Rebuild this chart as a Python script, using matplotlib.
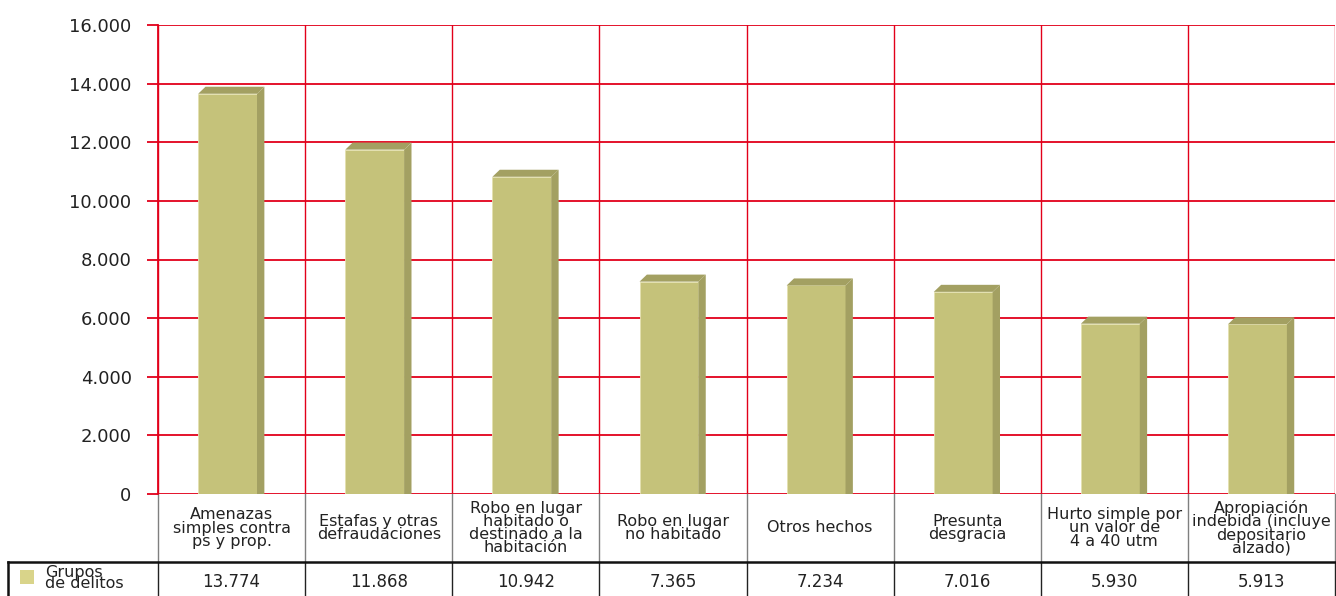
import matplotlib
matplotlib.use("Agg")
import matplotlib.pyplot as plt
from matplotlib.patches import Polygon, Rectangle
import matplotlib.transforms as mtransforms

categories = [
    "Amenazas\nsimples contra\nps y prop.",
    "Estafas y otras\ndefraudaciones",
    "Robo en lugar\nhabitado o\ndestinado a la\nhabitación",
    "Robo en lugar\nno habitado",
    "Otros hechos",
    "Presunta\ndesgracia",
    "Hurto simple por\nun valor de\n4 a 40 utm",
    "Apropiación\nindebida (incluye\ndepositario\nalzado)",
]
values = [13774, 11868, 10942, 7365, 7234, 7016, 5930, 5913]
value_labels = ["13.774", "11.868", "10.942", "7.365", "7.234", "7.016", "5.930", "5.913"]
series_name = "Grupos\nde delitos"
yticks = [0, 2000, 4000, 6000, 8000, 10000, 12000, 14000, 16000]
ytick_labels = ["0", "2.000", "4.000", "6.000", "8.000", "10.000", "12.000", "14.000", "16.000"]

plt.rcParams['font.family'] = ['DejaVu Sans']
W, H = 1336, 596
fig = plt.figure(figsize=(W / 100, H / 100), dpi=100)
ax = fig.add_axes([158 / W, (H - 494) / H, (1335 - 158) / W, (494 - 25) / H])

red = "#E2001A"
front = "#C5C27A"
dark = "#A3A062"
n = len(values)
ax.set_xlim(-0.5, n - 0.5)
ax.set_ylim(0, 16000)

# grid
for y in yticks:
    ax.axhline(y, color=red, lw=1.3, zorder=1)
for i in range(n + 1):
    ax.axvline(i - 0.5, color=red, lw=1.0, zorder=1)

bw = 0.40
off = -0.027
dx = 0.05
dy = 240
xs = [i + off for i in range(n)]
fronts = [v - dy / 2 for v in values]
ax.bar(xs, fronts, width=bw, color=front, edgecolor="#E4E1B0", linewidth=0.6, zorder=3)
for x, v in zip(xs, fronts):
    l, r = x - bw / 2, x + bw / 2
    top = Polygon([(l, v), (l + dx, v + dy), (r + dx, v + dy), (r, v)], closed=True,
                  facecolor=dark, edgecolor="none", zorder=4)
    side = Polygon([(r, v), (r + dx, v + dy), (r + dx, 0), (r, 0)], closed=True,
                   facecolor=dark, edgecolor="none", zorder=4)
    ax.add_patch(top)
    ax.add_patch(side)

ax.set_yticks(yticks)
ax.set_yticklabels(ytick_labels, fontsize=13, color="#222222")
ax.tick_params(axis="y", length=8, width=1.3, color=red, pad=11)
ax.set_xticks([])
for s in ["top", "right", "bottom"]:
    ax.spines[s].set_visible(False)
ax.spines["left"].set_color(red)
ax.spines["left"].set_linewidth(1.3)

# table below the axes
tr = mtransforms.blended_transform_factory(ax.transData, ax.transAxes)
def ay(py):
    return (494 - py) / 469.0

x_left = -0.5 - 150 / 147.1
for i in range(n + 1):
    xb = i - 0.5
    ax.plot([xb, xb], [ay(494), ay(562)], color="#7F7F7F", lw=1.0, transform=tr, clip_on=False, zorder=2)
    ax.plot([xb, xb], [ay(562), ay(597)], color="#222222", lw=1.0, transform=tr, clip_on=False, zorder=2)
ax.plot([x_left, n - 0.5], [ay(562), ay(562)], color="#111111", lw=1.8, transform=tr, clip_on=False)
ax.plot([x_left, x_left], [ay(562), ay(597)], color="#111111", lw=1.8, transform=tr, clip_on=False)

for i, (c, vl) in enumerate(zip(categories, value_labels)):
    ax.text(i, ay(528), c, transform=tr, ha="center", va="center", fontsize=11.5,
            linespacing=0.85, color="#222222", clip_on=False)
    ax.text(i, ay(582), vl, transform=tr, ha="center", va="center", fontsize=12,
            color="#222222", clip_on=False)

fig.patches.append(Rectangle((20 / W, (H - 584) / H), 14 / W, 14 / H, transform=fig.transFigure,
                             facecolor="#D9D48A", edgecolor="none"))
fig.text(45 / W, (H - 578) / H, series_name, ha="left", va="center", fontsize=11.5,
         linespacing=0.75, color="#222222")

fig.savefig("out.png", dpi=100)
